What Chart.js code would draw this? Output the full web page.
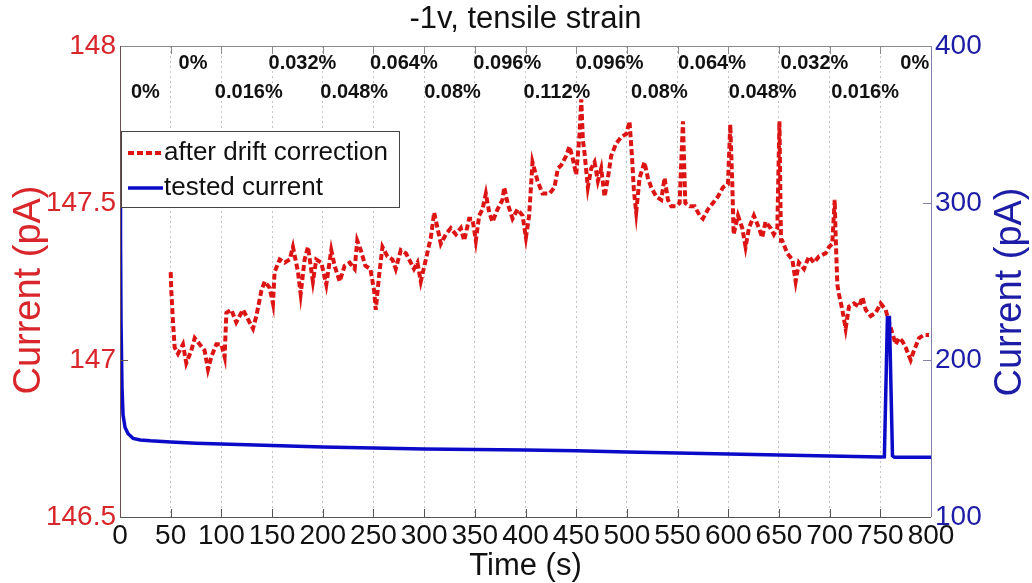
<!DOCTYPE html>
<html><head><meta charset="utf-8">
<script src="https://cdn.jsdelivr.net/npm/chart.js@4.4.0/dist/chart.umd.min.js"></script>
<style>html,body{margin:0;padding:0;background:#fff;}#wrap{width:1032px;height:583px;position:relative;}</style>
</head><body><div id="wrap"><canvas id="c" width="1032" height="583"></canvas></div>
<script>
const chartTitle = '-1v, tensile strain';
const xTitle = 'Time (s)';
const yLeftTitle = 'Current (pA)';
const yRightTitle = 'Current (pA)';
const seriesNames = ['after drift correction', 'tested current'];

const redTime = [50,50.6,52.3,53.9,57.2,62.1,65.4,70.3,73.7,78.6,83.5,86.8,90.1,95,100,103.2,104.9,109.8,114.7,121.3,126.2,131.2,134.5,139.4,142.7,147.6,150.9,152.5,157.5,162.4,167.4,170.6,175.6,178.2,182.1,185.4,190.3,193.6,198.6,203.5,208.4,211.7,216.7,221.6,226.6,231.5,234,237.5,242,247,250.7,252.3,255.6,258.9,263.8,268.8,272,277,282,286.8,290,293.4,296.7,301.7,306.6,309.9,313.2,316.5,321.4,326.3,331.3,336.2,339.5,344.4,347.7,351,354.3,357.6,360.9,364.2,367.5,372.4,377.3,379,382.3,387.2,392.1,397.1,400.4,403.6,406.9,411.9,416.8,423.7,428.6,431.9,435.2,440.1,443.4,446.7,450,451.6,453.3,455,456.6,458.2,461.5,464.8,468.1,471.4,474.7,478,481.3,484.5,489.5,494.4,499.4,502.6,505,506.9,509.2,512.5,517.4,520.7,524,529,533.9,537.2,540.5,543.8,548.7,552,555.3,557.6,561.9,566.8,571.8,575,580,584.9,589.8,594.8,599.7,602,604,605.3,609.6,613.8,617.1,620.4,625.3,630.3,633.5,636.8,641.8,645,648.4,650.5,652,653.3,658.2,663.2,666.5,669.7,674.7,679.6,684.5,689.5,696.1,699.4,702.6,705,705.9,707.6,709.2,712.5,715.8,719.1,724,729,732.3,735.6,740.5,745.4,750.3,755.3,758.6,765.2,768.4,771.7,775,779.9,783.2,788.2,793.1,798];
const redValue = [147.28,147.22,147.12,147.04,147.02,147.05,146.99,147.03,147.07,147.05,147.03,146.97,147.01,147.05,147.05,147.01,147.15,147.16,147.12,147.16,147.13,147.10,147.14,147.22,147.25,147.23,147.18,147.28,147.32,147.31,147.32,147.36,147.28,147.21,147.32,147.36,147.25,147.32,147.31,147.24,147.35,147.30,147.25,147.30,147.31,147.29,147.38,147.35,147.30,147.29,147.22,147.16,147.27,147.36,147.33,147.32,147.29,147.35,147.34,147.31,147.29,147.31,147.25,147.32,147.39,147.47,147.42,147.37,147.40,147.42,147.40,147.42,147.38,147.45,147.45,147.38,147.46,147.48,147.53,147.47,147.44,147.48,147.51,147.55,147.50,147.45,147.48,147.46,147.39,147.46,147.63,147.57,147.53,147.53,147.55,147.61,147.62,147.65,147.68,147.64,147.59,147.65,147.72,147.83,147.70,147.66,147.55,147.61,147.63,147.57,147.61,147.52,147.58,147.65,147.69,147.71,147.72,147.76,147.65,147.54,147.47,147.58,147.63,147.58,147.55,147.52,147.51,147.58,147.51,147.49,147.49,147.50,147.76,147.50,147.49,147.49,147.46,147.45,147.48,147.50,147.52,147.55,147.56,147.75,147.56,147.40,147.46,147.42,147.36,147.42,147.46,147.42,147.39,147.44,147.42,147.40,147.42,147.76,147.38,147.38,147.34,147.32,147.25,147.31,147.29,147.33,147.31,147.33,147.34,147.36,147.37,147.51,147.40,147.24,147.21,147.16,147.10,147.17,147.18,147.17,147.20,147.16,147.14,147.15,147.18,147.16,147.12,147.05,147.07,147.06,147.04,147.00,147.03,147.07,147.08,147.08];

const blueTime = [0,0.5,1,2,3,5,8,13,20,30,50,75,100,150,200,250,300,350,400,450,500,550,600,650,700,750,754,757,759,762,764,780,800];
const blueValue = [345,280,225,182,165,157,153,150,149,148.5,147.8,147,146.5,145.5,144.6,144,143.3,143,142.7,142.2,141.4,140.8,140.1,139.5,138.9,138.2,138.3,227,227,139,138,138,138];

const strainTime = [25,72,127,180,231,280,328,382,431,483,532,584,634,685,735,784];
const strainLabel = ['0%','0%','0.016%','0.032%','0.048%','0.064%','0.08%','0.096%','0.112%','0.096%','0.08%','0.064%','0.048%','0.032%','0.016%','0%'];
const strainRow = [1,0,1,0,1,0,1,0,1,0,1,0,1,0,1,0];

const FONT = '"Liberation Sans", Arial, sans-serif';
const RED = '#dc1414';
const BLUE = '#0a0ac8';
const RED_TXT = '#d9262b';
const BLUE_TXT = '#1c1ca6';

function pts(xs, ys){ return xs.map((t,i)=>({x:t, y:ys[i]})); }

const deco = {
  id: 'deco',
  afterDatasetsDraw(chart){
    const {ctx, chartArea:a, scales:{x, y, yR}} = chart;
    ctx.save();
    function ln(x1,y1,x2,y2,c,w){ ctx.beginPath(); ctx.strokeStyle=c; ctx.lineWidth=w||1; ctx.setLineDash([]); ctx.moveTo(x1,y1); ctx.lineTo(x2,y2); ctx.stroke(); }
    ln(a.left, a.top+0.5, a.right, a.top+0.5, '#8a8a8a');
    ln(a.left, a.bottom+0.5, a.right, a.bottom+0.5, '#555');
    ln(a.left+0.5, a.top, a.left+0.5, a.bottom, '#6b5050');
    ln(a.right+0.5, a.top, a.right+0.5, a.bottom, '#8080a8');
    x.ticks.forEach(t=>{
      if (t.value<=0 || t.value>=800) return;
      const px = Math.round(x.getPixelForValue(t.value))+0.5;
      ln(px, a.bottom, px, a.bottom-8, '#555');
      ln(px, a.top, px, a.top+8, '#8a8a8a');
    });
    y.ticks.forEach(t=>{
      if (t.value<=146.5 || t.value>=148) return;
      const py = Math.round(y.getPixelForValue(t.value))+0.5;
      ln(a.left, py, a.left+8, py, '#6b5050');
    });
    yR.ticks.forEach(t=>{
      if (t.value<=100 || t.value>=400) return;
      const py = Math.round(yR.getPixelForValue(t.value))+0.5;
      ln(a.right-8, py, a.right, py, '#8080a8');
    });
    ctx.fillStyle = '#111';
    ctx.font = 'bold 20px ' + FONT;
    ctx.textAlign = 'center';
    ctx.textBaseline = 'middle';
    strainTime.forEach((t,i)=>{
      const px = x.getPixelForValue(t);
      const py = strainRow[i] === 0 ? a.top + 17 : a.top + 46;
      ctx.fillText(strainLabel[i], px, py);
    });
    const lx = a.left + 1, ly = a.top + 85, lw = 278, lh = 76;
    ctx.fillStyle = '#fff';
    ctx.fillRect(lx, ly, lw, lh);
    ctx.strokeStyle = '#444'; ctx.lineWidth = 1; ctx.setLineDash([]);
    ctx.strokeRect(lx+0.5, ly+0.5, lw, lh);
    ctx.beginPath(); ctx.strokeStyle = RED; ctx.lineWidth = 4; ctx.setLineDash([6,3]);
    ctx.moveTo(lx+7, ly+22); ctx.lineTo(lx+42, ly+22); ctx.stroke();
    ctx.beginPath(); ctx.strokeStyle = BLUE; ctx.lineWidth = 3.5; ctx.setLineDash([]);
    ctx.moveTo(lx+7, ly+57); ctx.lineTo(lx+42, ly+57); ctx.stroke();
    ctx.fillStyle = '#111'; ctx.font = '26px ' + FONT; ctx.textAlign = 'left'; ctx.textBaseline = 'middle';
    ctx.fillText(seriesNames[0], lx+43, ly+22);
    ctx.fillText(seriesNames[1], lx+43, ly+57);
    ctx.restore();
  },
  afterDraw(chart){
    const {ctx, chartArea:a} = chart;
    ctx.save();
    ctx.textAlign = 'center'; ctx.textBaseline = 'middle';
    ctx.fillStyle = '#111';
    ctx.font = '31px ' + FONT;
    ctx.fillText(chartTitle, (a.left+a.right)/2, 19);
    ctx.fillText(xTitle, (a.left+a.right)/2, 566);
    ctx.font = '38px ' + FONT;
    ctx.save(); ctx.translate(30, 290); ctx.rotate(-Math.PI/2); ctx.fillStyle = RED_TXT; ctx.fillText(yLeftTitle, 0, 0); ctx.restore();
    ctx.save(); ctx.translate(1011, 292); ctx.rotate(-Math.PI/2); ctx.fillStyle = BLUE_TXT; ctx.fillText(yRightTitle, 0, 0); ctx.restore();
    ctx.restore();
  }
};

new Chart(document.getElementById('c'), {
  type: 'line',
  data: {
    datasets: [
      { label: seriesNames[1], data: pts(blueTime, blueValue), yAxisID: 'yR', borderColor: BLUE, borderWidth: 3.5, pointRadius: 0, tension: 0, order: 0 },
      { label: seriesNames[0], data: pts(redTime, redValue), yAxisID: 'y', borderColor: RED, borderWidth: 4, borderDash: [6,3], pointRadius: 0, tension: 0, order: 1 }
    ]
  },
  options: {
    responsive: false,
    animation: false,
    devicePixelRatio: 1,
    layout: { padding: { top: 46, left: 0, right: 0, bottom: 0 } },
    plugins: { legend: { display: false }, title: { display: false }, tooltip: { enabled: false } },
    scales: {
      x: {
        type: 'linear', min: 0, max: 800,
        ticks: { stepSize: 50, autoSkip: false, maxRotation: 0, color: '#111', font: { size: 28, family: FONT }, padding: 2 },
        grid: { drawTicks: false, lineWidth: 1, color: c => (c.tick && (c.tick.value === 0 || c.tick.value === 800)) ? 'rgba(0,0,0,0)' : '#c4c4c4' },
        border: { display: false, dash: [2,3] },
        afterFit: s => { s.height = 66; }
      },
      y: {
        position: 'left', min: 146.5, max: 148,
        ticks: { stepSize: 0.5, color: RED_TXT, font: { size: 28, family: FONT }, padding: 4, callback: v => String(Math.round(v*10)/10) },
        grid: { display: false, drawTicks: false },
        border: { display: false },
        afterFit: s => { s.width = 120; }
      },
      yR: {
        position: 'right', min: 100, max: 400,
        ticks: { stepSize: 100, color: BLUE_TXT, font: { size: 28, family: FONT }, padding: 4 },
        grid: { display: false, drawTicks: false },
        border: { display: false },
        afterFit: s => { s.width = 101; }
      }
    }
  },
  plugins: [deco]
});
</script>
</body></html>
